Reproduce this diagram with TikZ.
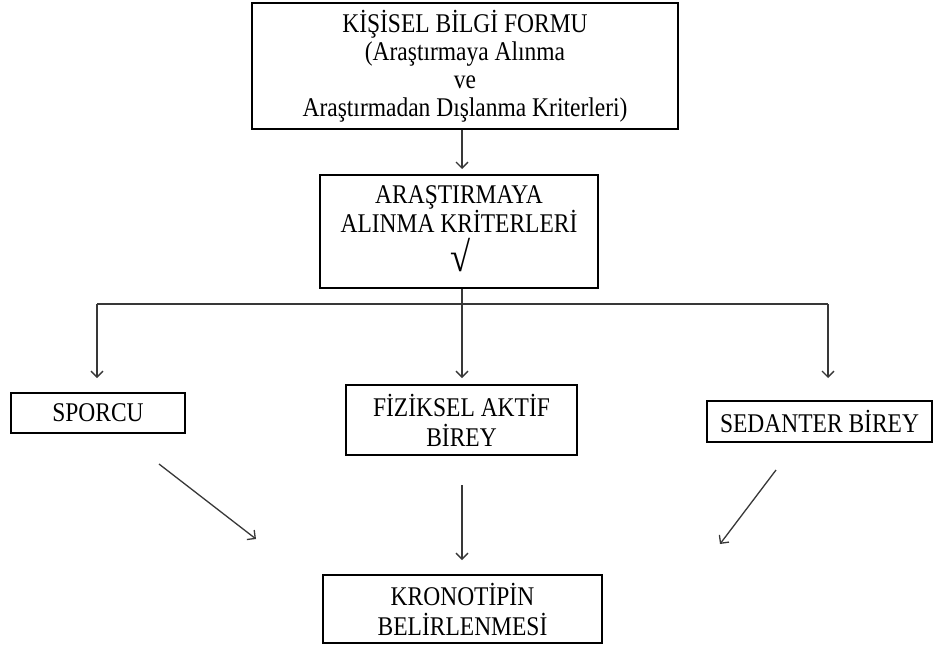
\documentclass[tikz,border=0pt]{standalone}
\usepackage{fontspec}
\setmainfont[FakeStretch=0.87]{Liberation Serif}
\usetikzlibrary{arrows.meta}
\begin{document}
\begin{tikzpicture}[x=1pt,y=-1pt,
  box/.style={draw=black, line width=2.4pt, align=center, inner sep=0pt,
    text=black, font=\fontsize{27}{30}\selectfont},
  txt/.style={align=center, inner sep=0pt, text=black, font=\fontsize{27}{28}\selectfont},
  conn/.style={draw=black!78, line width=1.3pt},
  arr/.style={conn, -{Straight Barb[length=6pt,width=12pt,line width=1.3pt]}}]
\useasboundingbox (0,0) rectangle (934,646);
\fill[white] (0,0) rectangle (934,646);

\node[box, minimum width=426pt, minimum height=126pt, font=\fontsize{27}{28}\selectfont] (top) at (465,66)
  {KİŞİSEL BİLGİ FORMU\\(Araştırmaya Alınma\\ve\\Araştırmadan Dışlanma Kriterleri)};
\node[box, minimum width=278pt, minimum height=113pt] (crit) at (459,231.5) {};
\node[txt] (critT) at (459,209) {ARAŞTIRMAYA\\ALINMA KRİTERLERİ};
\node[txt, font=\fontsize{42}{42}\selectfont] (chk) at (461,255) {√};
\node[box, minimum width=174pt, minimum height=40pt] (sporcu) at (98,413) {SPORCU};
\node[box, minimum width=231pt, minimum height=70pt] (fiz) at (461.5,420) {FİZİKSEL AKTİF\\BİREY};
\node[box, minimum width=225pt, minimum height=41pt] (sed) at (819.5,421.5) {SEDANTER BİREY};
\node[box, minimum width=279pt, minimum height=68pt] (kro) at (462.5,609) {KRONOTİPİN\\BELİRLENMESİ};

% top -> criteria
\coordinate (a1) at (462,169);
\draw[arr] (top.south -| a1) -- (a1);

% split
\coordinate (j1) at (97,304);
\coordinate (j2) at (462,304);
\coordinate (j3) at (828,304);
\coordinate (t1) at (97,378);
\coordinate (t2) at (462,378);
\coordinate (t3) at (828,378);
\draw[conn] (crit.south -| j2) -- (j2);
\draw[conn] (j1) -- (j3);
\draw[arr] (j1) -- (t1);
\draw[arr] (j2) -- (t2);
\draw[arr] (j3) -- (t3);

% converge
\coordinate (s1) at (159,464);
\coordinate (e1) at (256,539);
\coordinate (s2) at (462,485);
\coordinate (e2) at (462,560);
\coordinate (s3) at (776,470);
\coordinate (e3) at (720,544);
\draw[arr] (s1) -- (e1);
\draw[arr] (s2) -- (e2);
\draw[arr] (s3) -- (e3);
\end{tikzpicture}
\end{document}
